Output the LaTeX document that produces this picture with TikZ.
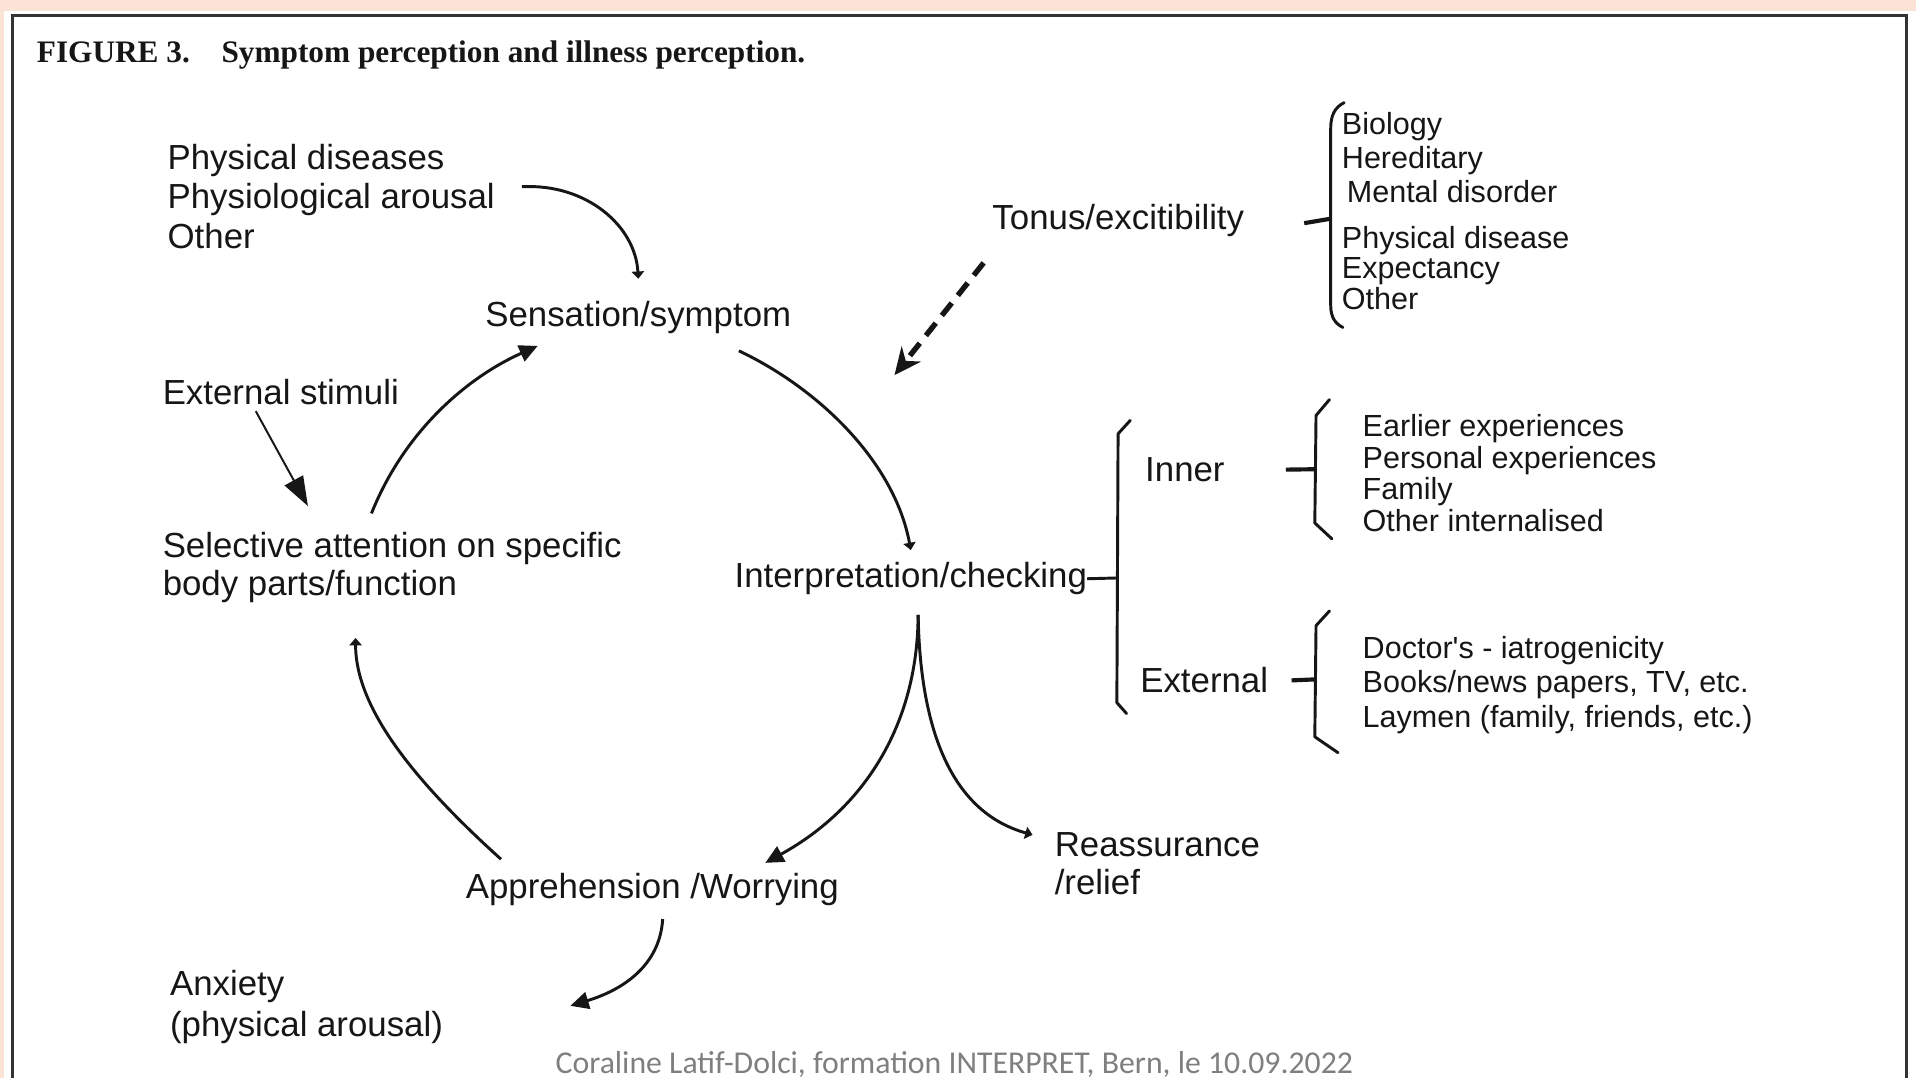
\documentclass[tikz,border=0pt]{standalone}
\usepackage{fontspec}
\setmainfont{Liberation Sans}
\newfontfamily\titlefont{Liberation Serif}
\newfontfamily\footfont{Carlito}
\newfontfamily\plainsans[Ligatures=ResetAll]{Liberation Sans}
\usetikzlibrary{arrows.meta,calc}
\definecolor{peach}{HTML}{FBE4D6}
\definecolor{ink}{HTML}{161616}
\definecolor{footgray}{HTML}{7F7F7F}
\begin{document}
\begin{tikzpicture}[x=1pt,y=-1pt,
 lbl/.style={inner sep=0pt,anchor=base west,text=ink,align=left,font=\fontsize{28.5}{32}\selectfont},
 sml/.style={inner sep=0pt,anchor=base west,text=ink,align=left,font=\fontsize{25}{26}\selectfont},
 conn/.style={draw=ink,line width=2.4pt},
 bigtip/.style={-{Triangle[length=15pt,width=14pt]}},
 smalltip/.style={-{Triangle[length=6pt,width=10pt]}},
 brk/.style={draw=ink,line width=2.4pt,line join=round,line cap=round},
 tick/.style={draw=ink,line width=3.4pt},
]
\useasboundingbox (0,0) rectangle (1568,882);
\fill[peach] (0,0) rectangle (1568,882);
\fill[white] (3,9) rectangle (1568,882);
\draw[line width=2.5pt,draw=black!80] (10,13) rectangle (1560,900);

% title
\node[inner sep=0pt,anchor=base west,text=ink,font=\titlefont\bfseries\fontsize{25.6}{28}\selectfont] (title) at (30,51)
  {FIGURE 3.\hspace{26pt}Symptom perception and illness perception.};

% nodes (multi-line nodes are placed by the baseline of their last line)
\node[lbl] (causes) at (137,203) {Physical diseases\\Physiological arousal\\Other};
\node[lbl] (sens) at (397,267) {Sensation/symptom};
\node[lbl] (tonus) at (812,188) {Tonus/excitibility};
\node[sml] (bio1) at (1098,110) {Biology};
\node[sml] (bio2) at (1098,138) {Hereditary};
\node[sml] (bio3) at (1102,166) {Mental disorder};
\node[sml] (bio4) at (1098,203) {Physical disease};
\node[sml] (bio5) at (1098,228) {Expectancy};
\node[sml] (bio6) at (1098,253) {Other};
\node[lbl] (stimuli) at (133,331) {External stimuli};
\node[lbl,font=\fontsize{28.5}{31}\selectfont] (attention) at (133,487) {Selective attention on specific\\body parts/function};
\node[lbl] (interp) at (601,481) {Interpretation/checking};
\node[lbl] (inner) at (937,394) {Inner};
\node[lbl] (external) at (933,567) {External};
\node[sml] (innerlist) at (1115,435) {Earlier experiences\\Personal experiences\\Family\\Other internalised};
\node[sml,font=\plainsans\fontsize{25}{28}\selectfont] (extlist) at (1115,595) {Doctor's - iatrogenicity\\Books/news papers, TV, etc.\\Laymen (family, friends, etc.)};
\node[lbl,font=\fontsize{28.5}{31}\selectfont] (reass) at (863,732) {Reassurance\\/relief};
\node[lbl] (appr) at (381,735) {Apprehension /Worrying};
\node[lbl,font=\fontsize{28.5}{33}\selectfont] (anx) at (139,848) {Anxiety\\(physical arousal)};
\node[inner sep=0pt,text=footgray,font=\footfont\fontsize{26}{28}\selectfont] (foot) at (781,871)
  {Coraline Latif-Dolci, formation INTERPRET, Bern, le 10.09.2022};

% coordinates
\coordinate (tonusend) at (732,307);
\coordinate (bioMid) at (1089,179);
\coordinate (bigMid) at (914,473);
\coordinate (innerMid) at (1076,384);
\coordinate (extMid) at (1076,556);

% cycle connectors
\draw[conn,smalltip] ([xshift=22pt,yshift=8pt]causes.east) .. controls (480,150) and (520,185) .. ([yshift=18pt]sens.north);
\draw[conn,smalltip] ([xshift=-43pt,yshift=-14pt]sens.south east) .. controls (670,318) and (732,378) .. ([yshift=10pt]interp.north);
\draw[conn,bigtip] ([xshift=6pt,yshift=-16pt]interp.south) .. controls (751,590) and (710,660) .. ([xshift=92.5pt,yshift=8pt]appr.north);
\draw[conn,smalltip] ([xshift=6pt,yshift=-16pt]interp.south) .. controls (753,600) and (780,665) .. ([xshift=-18pt,yshift=-2pt]reass.north west);
\draw[conn,smalltip] ([xshift=29pt,yshift=11pt]appr.north west) .. controls (340,640) and (291,580) .. ([xshift=158pt,yshift=-29pt]attention.south west);
\draw[conn,bigtip] ([xshift=171pt,yshift=15pt]attention.north west) .. controls (330,355) and (380,310) .. ([xshift=43pt,yshift=-10pt]sens.south west);
\draw[draw=ink,line width=1.6pt,-{Triangle[length=24pt,width=17pt]}] ([xshift=-20.5pt,yshift=-5pt]stimuli.south) -- ([xshift=119pt,yshift=21pt]attention.north west);
\draw[draw=ink,line width=4.4pt,dash pattern=on 13pt off 8pt,-{Stealth[length=22pt,width=20pt]}] ([xshift=-7pt,yshift=-21pt]tonus.south west) -- (tonusend);
\draw[conn,bigtip] ([xshift=8.5pt,yshift=-11pt]appr.south) .. controls (540,790) and (510,810) .. ([xshift=104pt,yshift=-29pt]anx.north east);

% brackets
\draw[brk] (1100,84) .. controls (1092,88) and (1089,95) .. (1089,105) -- (1089,250) .. controls (1089,260) and (1093,265) .. (1099,268);
\draw[tick] ([xshift=49pt,yshift=-2pt]tonus.east) -- (bioMid);
\draw[conn] (interp.east) -- (bigMid);
\draw[brk] (925,344) -- (915,355) -- (914,575) -- (922,584);
\draw[brk] (1088,327) -- (1077,340) -- (1076,428) -- (1090,441);
\draw[tick] ([xshift=50pt]inner.east) -- (innerMid);
\draw[brk] (1088,500) -- (1077,512) -- (1076,603) -- (1095,616);
\draw[tick] ([xshift=19pt]external.east) -- (extMid);
\end{tikzpicture}
\end{document}
